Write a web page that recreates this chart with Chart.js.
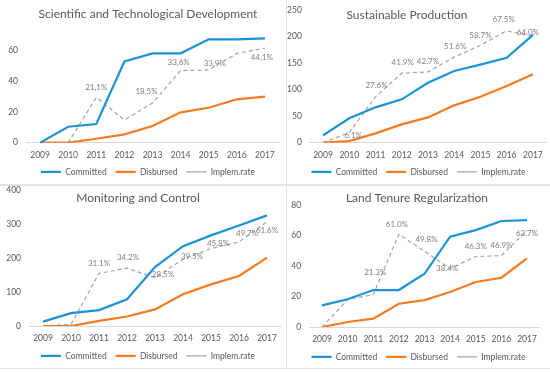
<!DOCTYPE html>
<html>
<head>
<meta charset="utf-8">
<title>Committed, disbursed and implementation rate by area</title>
<script src="https://cdn.jsdelivr.net/npm/chart.js@4.4.1/dist/chart.umd.min.js"></script>
<style>
  body { margin: 0; background: #fff; }
  #wrap { position: relative; width: 550px; height: 373px; overflow: hidden; background: #fff; }
  #wrap canvas { position: absolute; }
  .sep { position: absolute; background: #e4e4e4; }
</style>
</head>
<body>
<div id="wrap">
  <canvas id="sci" width="296" height="184" style="left:0;top:0"></canvas>
  <canvas id="mon" width="296" height="182" style="left:0;top:186px"></canvas>
  <div class="sep" style="left:0;top:184px;width:550px;height:2px"></div>
  <div class="sep" style="left:0;top:368px;width:550px;height:1px"></div>
  <canvas id="prod" width="263" height="184" style="left:287px;top:0;background:#fff"></canvas>
  <canvas id="land" width="263" height="182" style="left:287px;top:186px;background:#fff"></canvas>
  <div class="sep" style="left:286px;top:0;width:1px;height:369px"></div>
</div>
<script>
const years = ['2009', '2010', '2011', '2012', '2013', '2014', '2015', '2016', '2017'];

// Scientific and Technological Development
const sciCommitted = [0, 10.4, 12.2, 53, 58.3, 58.3, 67.4, 67.4, 68];
const sciDisbursed = [0, 0, 2.6, 5.4, 10.9, 19.8, 22.8, 28.3, 30];
const sciRate = [0, 0, 21.1, 10.6, 18.5, 33.6, 33.9, 41.6, 44.1];
const sciTicks = [0, 20, 40, 60];

// Sustainable Production
const prodCommitted = [13.8, 45.9, 66.6, 81.7, 113, 135, 147, 160, 203];
const prodDisbursed = [0, 3, 17.6, 34.5, 47.7, 70.4, 86.7, 107, 129];
const prodRate = [0, 6.1, 27.6, 41.9, 42.7, 51.6, 58.7, 67.5, 64.0];
const prodTicks = [0, 50, 100, 150, 200, 250];

// Monitoring and Control
const monCommitted = [12.8, 38, 47, 79, 174, 236, 268, 297, 327];
const monDisbursed = [0, 0, 15, 28, 49, 94, 123, 148, 202];
const monRate = [0, 1.0, 31.1, 34.2, 28.5, 39.5, 45.8, 49.7, 61.6];
const monTicks = [0, 100, 200, 300, 400];

// Land Tenure Regularization
const landCommitted = [14.2, 18.2, 24.3, 24.3, 35, 59.4, 63.7, 69.7, 70.3];
const landDisbursed = [0, 3.3, 5.5, 15.3, 17.7, 23, 29.6, 32.4, 45.1];
const landRate = [0, 18.0, 21.3, 61.0, 49.8, 38.4, 46.3, 46.9, 63.7];
const landTicks = [0, 20, 40, 60, 80];

const BLUE = '#1b93d8';
const ORANGE = '#f47b20';
const GREY = '#a3a3a3';
const TEXT = '#595959';
const FONT = 'Lato';

// chart title, placed by hand like the original
const panelTitle = {
  id: 'panelTitle',
  afterDraw(chart, args, opts) {
    const ctx = chart.ctx;
    ctx.save();
    ctx.font = '12px ' + FONT;
    ctx.fillStyle = TEXT;
    ctx.textAlign = 'center';
    ctx.textBaseline = 'middle';
    ctx.fillText(opts.text, opts.x, opts.y);
    ctx.restore();
  }
};

// percentage labels on the implementation rate line
const rateLabels = {
  id: 'rateLabels',
  afterDatasetsDraw(chart, args, opts) {
    const ctx = chart.ctx;
    const meta = chart.getDatasetMeta(2);
    const values = chart.data.datasets[2].data;
    ctx.save();
    ctx.font = '8px ' + FONT;
    ctx.fillStyle = '#7f7f7f';
    ctx.textAlign = 'center';
    ctx.textBaseline = 'middle';
    Object.entries(opts.at).forEach(([i, off]) => {
      const pt = meta.data[i];
      const txt = values[i].toFixed(1).replace('.', opts.sep) + '%';
      ctx.fillText(txt, pt.x + off[0], pt.y + off[1]);
    });
    ctx.restore();
  }
};

function buildPanel(id, p) {
  return new Chart(document.getElementById(id), {
    type: 'line',
    data: {
      labels: years,
      datasets: [
        { label: 'Committed', data: p.committed, borderColor: BLUE, borderWidth: 2.2, yAxisID: 'y' },
        { label: 'Disbursed', data: p.disbursed, borderColor: ORANGE, borderWidth: 2.2, yAxisID: 'y' },
        { label: 'Implem.rate', data: p.rate, borderColor: GREY, borderWidth: 1.2, borderDash: [4, 3], yAxisID: 'rate' }
      ]
    },
    options: {
      responsive: false,
      animation: false,
      events: [],
      elements: { point: { radius: 0 }, line: { tension: 0, fill: false } },
      layout: { padding: { left: 0, right: 0, top: p.top, bottom: p.bottom } },
      scales: {
        x: {
          offset: true,
          grid: { display: false, drawTicks: false },
          border: { color: '#d9d9d9', width: 1 },
          ticks: { color: TEXT, font: { family: FONT, size: 8.5 }, padding: 7, autoSkip: false, maxRotation: 0 },
          afterFit: s => { s.height = p.xh; }
        },
        y: {
          min: 0,
          max: p.max,
          grid: { display: false, drawTicks: false },
          border: { display: false },
          ticks: { color: TEXT, font: { family: FONT, size: 8.5, lineHeight: 1 }, padding: 8 },
          afterBuildTicks: s => { s.ticks = p.ticks.map(v => ({ value: v })); },
          afterFit: s => {
            s.width = p.left;
            // let the top tick label sit close to the edge, as in the original
            s.paddingTop = 4;
            s.paddingBottom = 4;
          }
        },
        rate: {
          position: 'right',
          min: 0,
          max: p.rateMax,
          grid: { display: false, drawTicks: false },
          border: { display: false },
          ticks: { display: false },
          afterFit: s => { s.width = p.right; }
        }
      },
      plugins: {
        legend: {
          position: 'bottom',
          labels: {
            usePointStyle: true,
            pointStyle: 'line',
            pointStyleWidth: 20,
            color: TEXT,
            font: { family: FONT, size: 8.5 },
            padding: 9
          }
        },
        tooltip: { enabled: false },
        panelTitle: { text: p.title, x: p.titleX, y: p.titleY },
        rateLabels: { at: p.labelAt, sep: p.sep }
      }
    },
    plugins: [panelTitle, rateLabels]
  });
}

buildPanel('sci', {
  title: 'Scientific and Technological Development', titleX: 148, titleY: 14,
  committed: sciCommitted, disbursed: sciDisbursed, rate: sciRate, ticks: sciTicks,
  max: 70, rateMax: 50, sep: ',',
  left: 26, right: 17, top: 35.4, bottom: -2.2, xh: 16,
  labelAt: { 2: [0, -10], 4: [-6, -12], 5: [-2, -8], 6: [6, -7], 8: [-3, 9] }
});

buildPanel('prod', {
  title: 'Sustainable Production', titleX: 120, titleY: 15,
  committed: prodCommitted, disbursed: prodDisbursed, rate: prodRate, ticks: prodTicks,
  max: 250, rateMax: 80, sep: '.',
  left: 22.9, right: 3.9, top: 10, bottom: -2.2, xh: 16,
  labelAt: { 1: [4, 3], 2: [1, -11], 3: [1, -11], 4: [0, -10], 5: [1, -11], 6: [0, -10], 7: [-3, -11], 8: [-5, -4] }
});

buildPanel('mon', {
  title: 'Monitoring and Control', titleX: 138, titleY: 12,
  committed: monCommitted, disbursed: monDisbursed, rate: monRate, ticks: monTicks,
  max: 400, rateMax: 80, sep: '.',
  left: 29, right: 15, top: 4.7, bottom: -2.2, xh: 16.7,
  labelAt: { 2: [0, -10], 3: [1, -11], 4: [8, -3], 5: [9, -3], 6: [7, -5], 7: [8, -9], 8: [0, 9] }
});

buildPanel('land', {
  title: 'Land Tenure Regularization', titleX: 130, titleY: 12,
  committed: landCommitted, disbursed: landDisbursed, rate: landRate, ticks: landTicks,
  max: 80, rateMax: 80, sep: '.',
  left: 22.2, right: 10.2, top: 19.3, bottom: -3.2, xh: 16.7,
  labelAt: { 2: [2, -22], 3: [-2, -10], 4: [2, -12], 5: [-3, 0], 6: [0, -10], 7: [0, -10], 8: [0, 3] }
});
</script>
</body>
</html>
